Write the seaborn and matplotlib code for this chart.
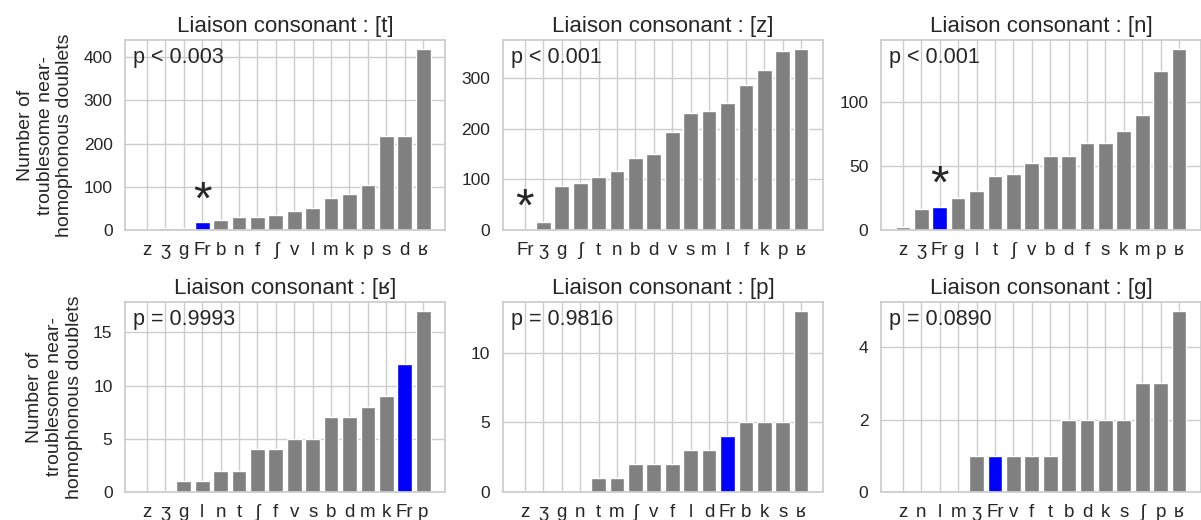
import matplotlib
matplotlib.use("Agg")
import matplotlib.pyplot as plt
import seaborn as sns
import pandas as pd

# ---- data ----
t_cats = ["z", "ʒ", "g", "Fr", "b", "n", "f", "ʃ", "v", "l", "m", "k", "p", "s", "d", "ʁ"]
t_vals = [0, 4, 4, 18, 22, 31, 31, 35, 44, 52, 75, 84, 105, 218, 218, 419]

z_cats = ["Fr", "ʒ", "g", "ʃ", "t", "n", "b", "d", "v", "s", "m", "l", "f", "k", "p", "ʁ"]
z_vals = [0, 15, 86, 93, 104, 116, 142, 149, 194, 231, 235, 250, 287, 316, 354, 357]

n_cats = ["z", "ʒ", "Fr", "g", "l", "t", "ʃ", "v", "b", "d", "f", "s", "k", "m", "p", "ʁ"]
n_vals = [2, 16, 18, 25, 30, 42, 44, 52, 58, 58, 68, 68, 77, 90, 124, 141]

r_cats = ["z", "ʒ", "g", "l", "n", "t", "ʃ", "f", "v", "s", "b", "d", "m", "k", "Fr", "p"]
r_vals = [0, 0, 1, 1, 2, 2, 4, 4, 5, 5, 7, 7, 8, 9, 12, 17]

p_cats = ["z", "ʒ", "g", "n", "t", "m", "ʃ", "v", "f", "l", "d", "Fr", "b", "k", "s", "ʁ"]
p_vals = [0, 0, 0, 0, 1, 1, 2, 2, 2, 3, 3, 4, 5, 5, 5, 13]

g_cats = ["z", "n", "l", "m", "ʒ", "Fr", "v", "f", "t", "b", "d", "k", "s", "ʃ", "p", "ʁ"]
g_vals = [0, 0, 0, 0, 1, 1, 1, 1, 1, 2, 2, 2, 2, 3, 3, 5]

consonants = ["t", "z", "n", "ʁ", "p", "g"]
p_texts = ["p < 0.003", "p < 0.001", "p < 0.001", "p = 0.9993", "p = 0.9816", "p = 0.0890"]
significant = [True, True, True, False, False, False]
yticks = [[0, 100, 200, 300, 400], [0, 100, 200, 300], [0, 50, 100],
          [0, 5, 10, 15], [0, 5, 10], [0, 2, 4]]
all_cats = [t_cats, z_cats, n_cats, r_cats, p_cats, g_cats]
all_vals = [t_vals, z_vals, n_vals, r_vals, p_vals, g_vals]
ylabel = "Number of\ntroublesome near-\nhomophonous doublets"

sns.set_theme(style="whitegrid")
plt.rcParams["font.family"] = ["Liberation Sans", "DejaVu Sans"]

fig, axes = plt.subplots(2, 3, figsize=(12.01, 5.2), dpi=100)
fig.subplots_adjust(left=0.1041, right=1.0, top=0.923, bottom=0.054,
                    wspace=0.181, hspace=0.379)

for i, ax in enumerate(axes.flat):
    cats = all_cats[i]
    vals = all_vals[i]
    df = pd.DataFrame({"cat": cats, "val": vals})
    pal = {c: ("blue" if c == "Fr" else "grey") for c in cats}
    sns.barplot(data=df, x="cat", y="val", hue="cat", order=cats, hue_order=cats,
                palette=pal, legend=False, saturation=1, width=0.8, ax=ax)
    # matplotlib-like default x margins
    ax.autoscale(enable=True, axis="x")
    ax.margins(x=0.05)
    ax.grid(True, axis="both", color=".8", linewidth=1)
    ax.set_axisbelow(True)
    ax.set_yticks(yticks[i])
    ax.set_title(f"Liaison consonant : [{consonants[i]}]", fontsize=16, color=".15")
    ax.set_xlabel("")
    ax.set_ylabel(ylabel if i % 3 == 0 else "", fontsize=14, labelpad=7.5)
    ax.tick_params(axis="y", labelsize=12.5, pad=3)
    ax.tick_params(axis="x", labelsize=13.5, pad=3)
    ax.text(0.025, 0.91, p_texts[i], transform=ax.transAxes, fontsize=15.5,
            va="center", ha="left", color=".15")
    if significant[i]:
        ymax = ax.get_ylim()[1]
        k = cats.index("Fr")
        ax.text(k, vals[k] + 0.11 * ymax, "*", fontsize=34, ha="center",
                va="center", color=".15")

fig.savefig("out.png", dpi=100)
